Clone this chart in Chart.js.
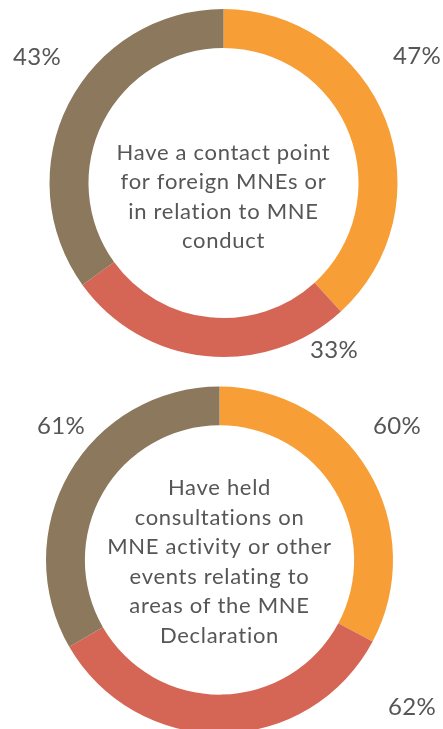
<!DOCTYPE html>
<html>
<head>
<meta charset="utf-8">
<script src="https://cdn.jsdelivr.net/npm/chart.js@4"></script>
<style>
  html, body { margin: 0; padding: 0; background: #fff; width: 443px; height: 729px; overflow: hidden; }
  .donut { position: absolute; left: 0; }
  #top { top: 0; }
  #bottom { top: 370px; }
</style>
</head>
<body>
<canvas id="top" class="donut" width="443" height="370"></canvas>
<canvas id="bottom" class="donut" width="443" height="380"></canvas>
<script>
// segment order: orange, red, brown (clockwise from 12 o'clock)
const segments = ['Segment 1', 'Segment 2', 'Segment 3'];
const contactValues = [47, 33, 43];
const consultValues = [60, 62, 61];
const contactTitle = ['Have a contact point', 'for foreign MNEs or', 'in relation to MNE', 'conduct'];
const consultTitle = ['Have held', 'consultations on', 'MNE activity or other', 'events relating to', 'areas of the MNE', 'Declaration'];

const colors = ['#F79E36', '#D56655', '#8B785D'];
const textColor = '#565656';
const fontFamily = 'Lato, "Open Sans", sans-serif';

// text placement: [x, baseline] per value label, in canvas px
const contactLabelPos = [[417, 64], [334, 358], [37, 65]];
const consultLabelPos = [[397, 64], [412, 345], [61, 64]];

const donutText = {
    id: 'donutText',
    afterDraw(chart, args, opts) {
        const ctx = chart.ctx;
        const arc = chart.getDatasetMeta(0).data[0];
        if (!arc) return;
        ctx.save();
        ctx.fillStyle = textColor;
        ctx.textAlign = 'center';
        ctx.textBaseline = 'alphabetic';

        ctx.font = `22px ${fontFamily}`;
        ctx.letterSpacing = '0.7px';
        const lines = opts.lines;
        const lh = opts.lineHeight;
        const firstBase = arc.y + opts.baseOffset - (lines.length - 1) * lh / 2;
        lines.forEach((line, i) => ctx.fillText(line, arc.x, firstBase + i * lh));

        ctx.font = `24px ${fontFamily}`;
        ctx.letterSpacing = '0.3px';
        chart.data.datasets[0].data.forEach((v, i) => {
            const p = opts.labelPos[i];
            ctx.fillText(`${v}%`, p[0], p[1]);
        });
        ctx.restore();
    }
};

function makeDonut(id, values, lines, labelPos, padding, baseOffset) {
    return new Chart(document.getElementById(id), {
        type: 'doughnut',
        data: {
            labels: segments,
            datasets: [{ data: values, backgroundColor: colors, borderWidth: 0 }]
        },
        options: {
            responsive: false,
            animation: false,
            cutout: '77.6%',
            layout: { padding },
            plugins: {
                legend: { display: false },
                tooltip: { enabled: false },
                donutText: { lines, labelPos, lineHeight: 29.5, baseOffset }
            }
        },
        plugins: [donutText]
    });
}

makeDonut('top', contactValues, contactTitle, contactLabelPos,
    { left: 49.5, right: 45.5, top: 9, bottom: 13 }, 21);
makeDonut('bottom', consultValues, consultTitle, consultLabelPos,
    { left: 46, right: 50, top: 16.5, bottom: 16.5 }, 9);
</script>
</body>
</html>
